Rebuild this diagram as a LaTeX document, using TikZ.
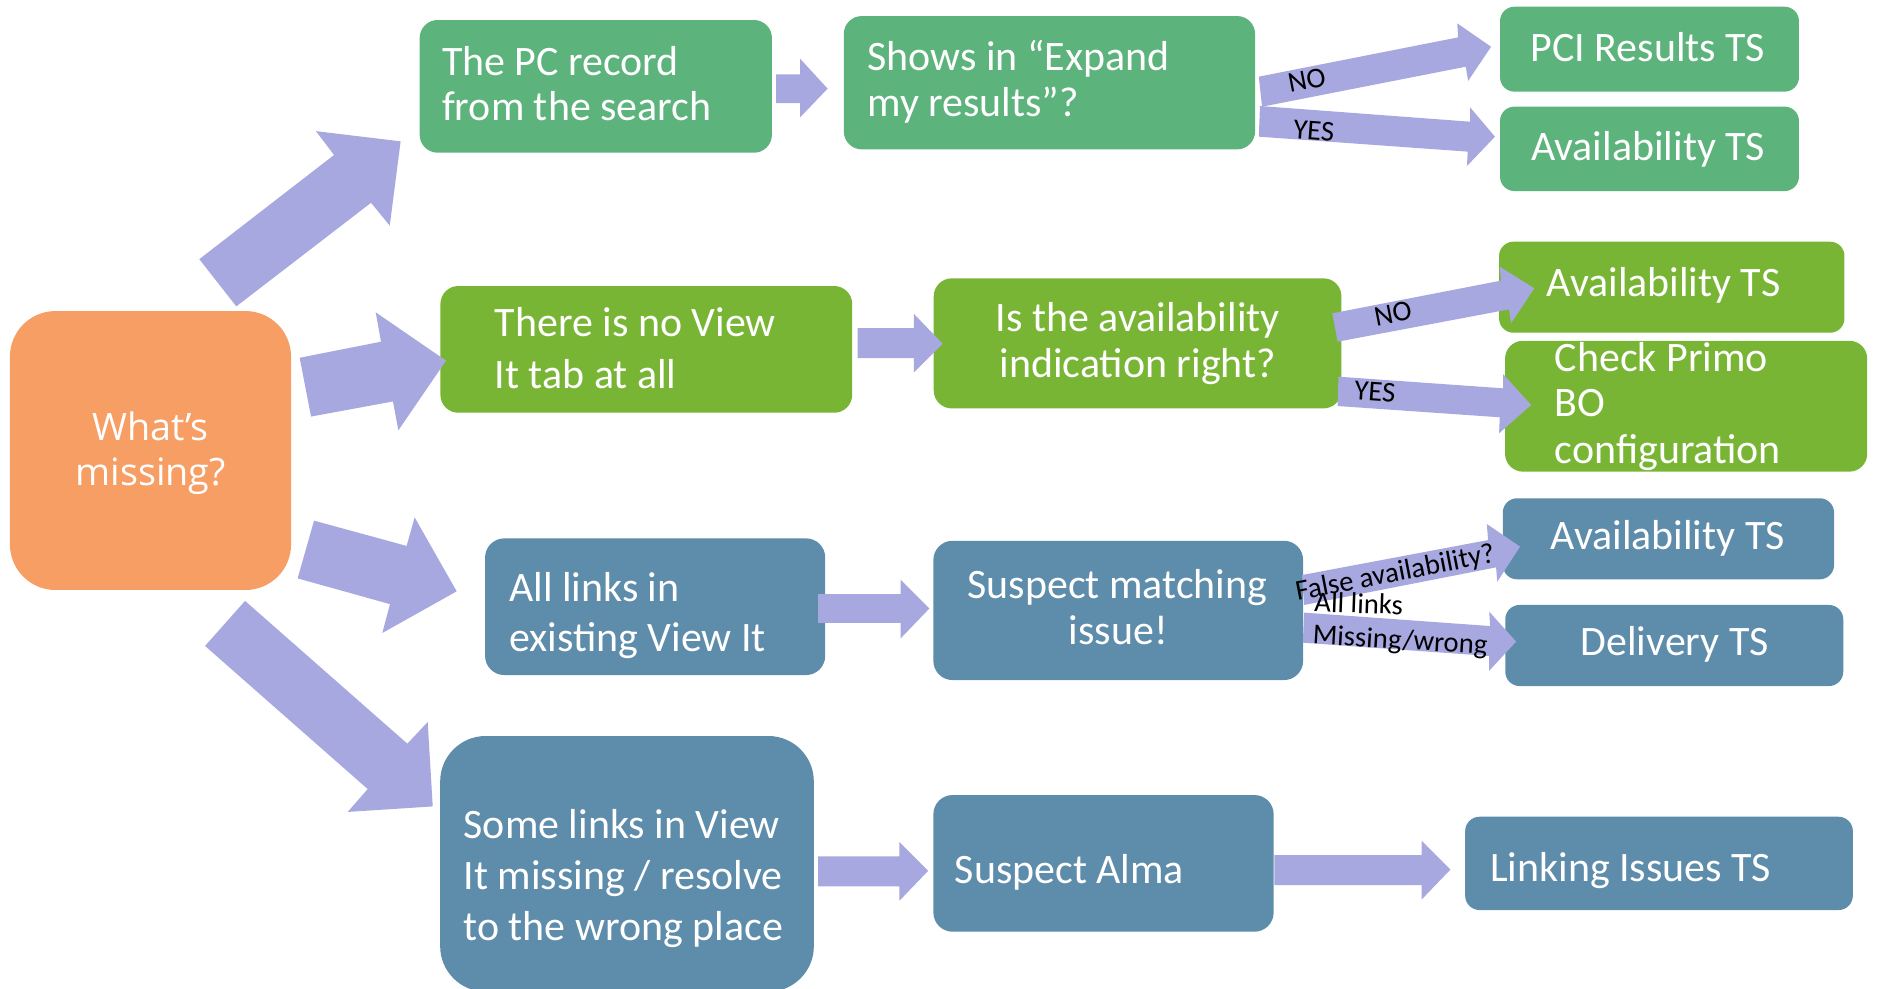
\documentclass[tikz,border=0pt]{standalone}
\usepackage{fontspec}
\setmainfont{Carlito}
\newfontfamily\osans{Open Sans}
\definecolor{gOne}{HTML}{5CB37C}
\definecolor{gTwo}{HTML}{78B535}
\definecolor{bBlue}{HTML}{5E8CAB}
\definecolor{oOrange}{HTML}{F79E65}
\definecolor{aLav}{HTML}{A8A8E0}
\tikzset{
  bx/.style={rectangle, draw=none, inner sep=0pt, rounded corners=#1},
  bx/.default=14pt,
  tx/.style={text=white, inner sep=0pt, font=\fontsize{35}{42}\selectfont},
  lab/.style={text=black, inner sep=0pt, font=\fontsize{24}{29}\selectfont},
  arr/.style={fill=aLav, draw=none}
}
\begin{document}
\begin{tikzpicture}[x=1pt,y=-1pt]
\useasboundingbox (0,0) rectangle (1568,825);
% boxes
\node[bx=38pt, fill=oOrange, minimum width=234.7pt, minimum height=232.9pt] (O) at (125.65,376.15) {};
\node[bx=15pt, fill=gOne, minimum width=294.1pt, minimum height=110.8pt] (B1) at (497.45,72.1) {};
\node[bx=15pt, fill=gOne, minimum width=343.4pt, minimum height=111.3pt] (B2) at (876.2,69.05) {};
\node[bx=12pt, fill=gOne, minimum width=249.6pt, minimum height=70.9pt] (B3) at (1377.2,41.05) {};
\node[bx=12pt, fill=gOne, minimum width=249.6pt, minimum height=70.5pt] (B4) at (1377.2,124.25) {};
\node[bx=15pt, fill=gTwo, minimum width=343.8pt, minimum height=105.8pt] (B5) at (539.6,291.7) {};
\node[bx=15pt, fill=gTwo, minimum width=340.4pt, minimum height=108.6pt] (B6) at (949.8,286.7) {};
\node[bx=12pt, fill=gTwo, minimum width=288.4pt, minimum height=76pt] (B7) at (1395.8,239.8) {};
\node[bx=15pt, fill=gTwo, minimum width=302.4pt, minimum height=109.3pt] (B8) at (1407.8,339.15) {};
\node[bx=16pt, fill=bBlue, minimum width=284pt, minimum height=114.1pt] (B9) at (547,506.55) {};
\node[bx=16pt, fill=bBlue, minimum width=308.7pt, minimum height=116.3pt] (B10) at (933.65,509.65) {};
\node[bx=12pt, fill=bBlue, minimum width=276.6pt, minimum height=67.7pt] (B11) at (1393,449.85) {};
\node[bx=12pt, fill=bBlue, minimum width=282.2pt, minimum height=67.7pt] (B12) at (1397.9,538.95) {};
\node[bx=38pt, fill=bBlue, minimum width=312pt, minimum height=213.5pt] (B13) at (523.5,721.25) {};
\node[bx=16pt, fill=bBlue, minimum width=284.1pt, minimum height=114.1pt] (B14) at (921.35,720.85) {};
\node[bx=12pt, fill=bBlue, minimum width=323.7pt, minimum height=77.9pt] (B15) at (1385.15,720.85) {};
% fan arrows from the orange box
\fill[arr] (197.3,255.8) -- (166.4,216.4) -- (278.9,129.4) -- (263.8,109.5) -- (334.5,118.0) -- (325.4,188.4) -- (309.8,169.3) -- cycle;
\fill[arr] (250.2,298.7) -- (318.1,285.3) -- (313.7,260.8) -- (372.4,301.1) -- (332.6,359.3) -- (328.1,335.2) -- (259.7,347.8) -- cycle;
\fill[arr] (262.2,434.7) -- (339.5,455.8) -- (346.2,432.0) -- (381.3,493.7) -- (319.2,528.5) -- (325.6,504.4) -- (248.5,482.9) -- cycle;
\fill[arr] (204.6,501.7) -- (340.1,620.9) -- (357.1,602.8) -- (361.3,673.3) -- (290.3,677.9) -- (307.0,658.8) -- (171.2,539.3) -- cycle;
% horizontal arrows
\fill[arr] (648,62) -- (668,62) -- (668,49) -- (691,74) -- (668,98) -- (668,86) -- (648,86) -- cycle;
\fill[arr] (716,274) -- (763,274) -- (763,262) -- (787,287) -- (763,311) -- (763,299) -- (716,299) -- cycle;
\fill[arr] (683,496) -- (752,496) -- (752,484) -- (776,508) -- (752,533) -- (752,520) -- (683,520) -- cycle;
\fill[arr] (683,715) -- (751,715) -- (751,703) -- (775,727) -- (751,752) -- (751,740) -- (683,740) -- cycle;
\fill[arr] (1064,714) -- (1187,714) -- (1187,702) -- (1211,726) -- (1187,751) -- (1187,739) -- (1064,739) -- cycle;
% diverging arrows
\fill[arr] (1051.0,64.0) -- (1217.4,31.2) -- (1216.7,19.5) -- (1244.9,39.0) -- (1225.8,67.6) -- (1223.8,55.7) -- (1053.7,89.1) -- cycle;
\fill[arr] (1052.0,88.5) -- (1227.4,101.6) -- (1227.4,89.6) -- (1248.2,114.1) -- (1224.8,138.6) -- (1225.4,126.6) -- (1051.0,114.1) -- cycle;
\fill[arr] (1112.4,261.6) -- (1253.2,234.3) -- (1252.2,222.7) -- (1281.0,240.7) -- (1261.6,269.9) -- (1259.9,258.3) -- (1116.8,285.3) -- cycle;
\fill[arr] (1117.5,314.5) -- (1254.9,324.2) -- (1254.9,312.3) -- (1278.4,338.1) -- (1251.6,361.8) -- (1252.2,348.4) -- (1116.8,339.0) -- cycle;
\fill[arr] (1087.1,480.1) -- (1242.4,450.9) -- (1241.4,437.5) -- (1269.1,456.4) -- (1250.1,485.7) -- (1249.1,473.7) -- (1088.8,505.1) -- cycle;
\fill[arr] (1088.8,511.5) -- (1244.1,522.7) -- (1243.4,510.7) -- (1265.8,535.7) -- (1243.4,560) -- (1243.4,547.7) -- (1087.8,536.6) -- cycle;
% texts
\node[tx, anchor=base, font=\osans\fontsize{31.5}{38}\selectfont] (Oa) at (125.5,367.7) {What’s};
\node[tx, anchor=base, font=\osans\fontsize{31.5}{38}\selectfont] (Ob) at (125.8,405.2) {missing?};
\node[tx, anchor=base west] (t1a) at (369,63) {The PC record};
\node[tx, anchor=base west] (t1b) at (369,101) {from the search};
\node[tx, anchor=base west] (t2a) at (724,59) {Shows in “Expand};
\node[tx, anchor=base west] (t2b) at (724,97.4) {my results”?};
\node[tx, anchor=base] (t3) at (1376,51) {PCI Results TS};
\node[tx, anchor=base] (t4) at (1376,133.6) {Availability TS};
\node[tx, anchor=base west] (t5a) at (413,281) {There is no View};
\node[tx, anchor=base west] (t5b) at (413,324) {It tab at all};
\node[tx, anchor=base] (t6a) at (950,277) {Is the availability};
\node[tx, anchor=base] (t6b) at (950,315) {indication right?};
\node[tx, anchor=base west] (t7) at (1291,247.7) {Availability TS};
\node[tx, anchor=base west] (t8a) at (1298,309.8) {Check Primo};
\node[tx, anchor=base west] (t8b) at (1298,347.9) {BO};
\node[tx, anchor=base west] (t8c) at (1298,386.8) {configuration};
\node[tx, anchor=base west] (t9a) at (425,502.4) {All links in};
\node[tx, anchor=base west] (t9b) at (425,544.1) {existing View It};
\node[tx, anchor=base] (t10a) at (933,499.6) {Suspect matching};
\node[tx, anchor=base] (t10b) at (933.8,537.7) {issue!};
\node[tx, anchor=base] (t11) at (1392.3,459.2) {Availability TS};
\node[tx, anchor=base] (t12) at (1398.2,547.7) {Delivery TS};
\node[tx, anchor=base west] (t13a) at (387,700) {Some links in View};
\node[tx, anchor=base west] (t13b) at (387,742.5) {It missing / resolve};
\node[tx, anchor=base west] (t13c) at (387,785.4) {to the wrong place};
\node[tx, anchor=base west] (t14) at (797,737.5) {Suspect Alma};
\node[tx, anchor=base west] (t15) at (1244,736.1) {Linking Issues TS};
% labels
\node[lab, rotate=11] (l1) at (1091,66.8) {NO};
\node[lab, rotate=-4.3] (l2) at (1097,109) {YES};
\node[lab, rotate=11] (l3) at (1163,262) {NO};
\node[lab, rotate=-4] (l4) at (1148,327) {YES};
\node[lab, rotate=11] (l5) at (1165,479) {False availability?};
\node[lab, anchor=base west, rotate=-2] (l6) at (1097,510.7) {All links};
\node[lab, anchor=base west, rotate=-3.5] (l7) at (1095.5,537.5) {Missing/wrong};
\end{tikzpicture}
\end{document}
